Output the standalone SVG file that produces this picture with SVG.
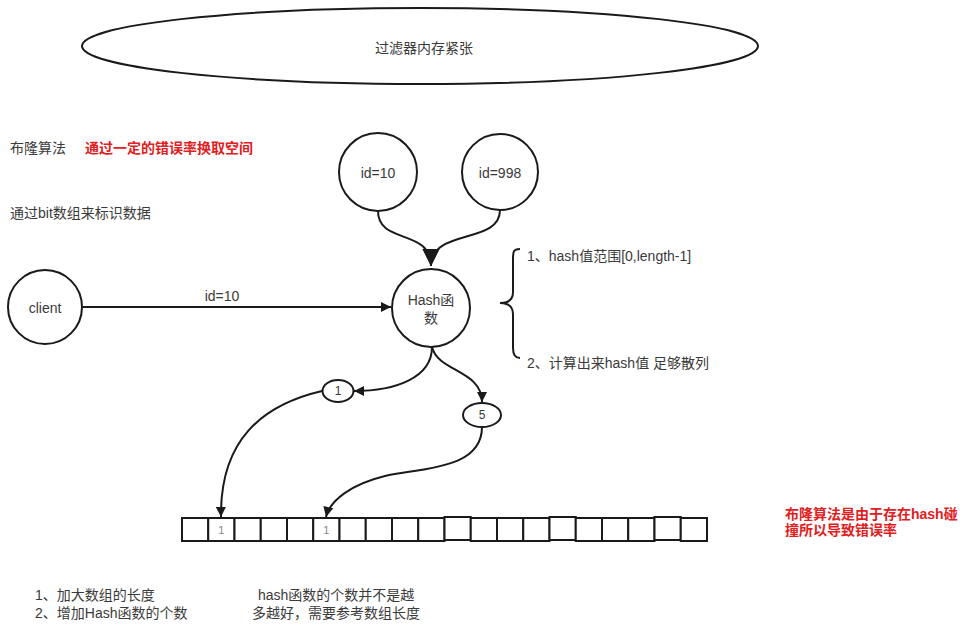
<svg xmlns="http://www.w3.org/2000/svg" width="969" height="633" viewBox="0 0 969 633">
<defs>
<style>
text{font-family:"Liberation Sans","Noto Sans CJK SC",sans-serif;font-size:14px;fill:#3a3a3a;}
.c{text-anchor:middle;dominant-baseline:central;}
.red{fill:#e0201e;font-weight:bold;}
.shape{fill:#fff;stroke:#1a1a1a;stroke-width:2;}
.cell{fill:#fff;stroke:#1a1a1a;stroke-width:2;}
.edge{fill:none;stroke:#1a1a1a;stroke-width:2;}
</style>
<marker id="arr" viewBox="0 0 10 10" refX="10" refY="5" markerWidth="11" markerHeight="10" markerUnits="userSpaceOnUse" orient="auto">
<path d="M0,0 L10,5 L0,10 Z" fill="#1a1a1a"/>
</marker>
<marker id="big" viewBox="0 0 10 10" refX="10" refY="5" markerWidth="17" markerHeight="20" markerUnits="userSpaceOnUse" orient="auto">
<path d="M0,0 L10,5 L0,10 Z" fill="#1a1a1a"/>
</marker>
</defs>
<rect width="969" height="633" fill="#fff"/>

<g id="memory">
<ellipse class="shape" cx="420" cy="46" rx="338" ry="38"/>
<text class="c" x="424" y="48">过滤器内存紧张</text>
</g>

<g id="notes">
<text x="10" y="153">布隆算法</text>
<text class="red" x="85" y="153">通过一定的错误率换取空间</text>
<text x="10" y="218">通过bit数组来标识数据</text>
<text x="527" y="261">1、hash值范围[0,length-1]</text>
<text x="527" y="368">2、计算出来hash值 足够散列</text>
<text class="red" x="785" y="519">布隆算法是由于存在hash碰</text>
<text class="red" x="785" y="535">撞所以导致错误率</text>
<text x="35" y="600">1、加大数组的长度</text>
<text x="35" y="618">2、增加Hash函数的个数</text>
<text x="258" y="600">hash函数的个数并不是越</text>
<text x="252" y="618">多越好，需要参考数组长度</text>
</g>

<g id="brace">
<path class="edge" d="M520,249 C513,249 513,252 513,260 L513,292 C513,300 508,303 500,303 C508,303 513,306 513,314 L513,348 C513,355 515,358 520,358"/>
</g>

<g id="connectors">
<path class="edge" d="M83,307 L391,307" marker-end="url(#arr)"/>
<path class="edge" d="M378,211 C378,245 431,228 431,266" marker-end="url(#big)"/>
<path class="edge" d="M500,210 C500,245 431,228 431,266" marker-end="url(#big)"/>
<path class="edge" d="M432,347 C432,378 395,391 354,391" marker-end="url(#arr)"/>
<path class="edge" d="M432,347 C438,372 482,370 482,402" marker-end="url(#arr)"/>
<path class="edge" d="M322,391 C262,405 220,440 221,517" marker-end="url(#arr)"/>
<path class="edge" d="M482,427 C482,470 420,468 385,476 C352,484 330,500 326,517" marker-end="url(#arr)"/>
<text class="c" x="222" y="296">id=10</text>
</g>

<g id="client">
<circle class="shape" cx="45" cy="307" r="37"/>
<text class="c" x="45" y="308">client</text>
</g>
<g id="id10">
<circle class="shape" cx="378" cy="172" r="39"/>
<text class="c" x="378" y="173">id=10</text>
</g>
<g id="id998">
<circle class="shape" cx="500" cy="172" r="38"/>
<text class="c" x="500" y="173">id=998</text>
</g>
<g id="hash">
<circle class="shape" cx="431" cy="308" r="39"/>
<text class="c" x="431" y="300">Hash函</text>
<text class="c" x="431" y="318">数</text>
</g>
<g id="n1">
<ellipse class="shape" cx="338" cy="391" rx="15.5" ry="11"/>
<text class="c" x="338" y="391" style="font-size:12px">1</text>
</g>
<g id="n5">
<ellipse class="shape" cx="482" cy="415" rx="19" ry="12"/>
<text class="c" x="482" y="415" style="font-size:12px">5</text>
</g>

<g id="array">
<rect class="cell" x="182" y="518" width="26.25" height="23"/>
<rect class="cell" x="208.25" y="518" width="26.25" height="23"/>
<rect class="cell" x="234.5" y="518" width="26.25" height="23"/>
<rect class="cell" x="260.75" y="518" width="26.25" height="23"/>
<rect class="cell" x="287" y="518" width="26.25" height="23"/>
<rect class="cell" x="313.25" y="518" width="26.25" height="23"/>
<rect class="cell" x="339.5" y="518" width="26.25" height="23"/>
<rect class="cell" x="365.75" y="518" width="26.25" height="23"/>
<rect class="cell" x="392" y="518" width="26.25" height="23"/>
<rect class="cell" x="418.25" y="518" width="26.25" height="23"/>
<rect class="cell" x="444.5" y="517" width="26.25" height="23"/>
<rect class="cell" x="470.75" y="518" width="26.25" height="23"/>
<rect class="cell" x="497" y="518" width="26.25" height="23"/>
<rect class="cell" x="523.25" y="518" width="26.25" height="23"/>
<rect class="cell" x="549.5" y="517" width="26.25" height="23"/>
<rect class="cell" x="575.75" y="518" width="26.25" height="23"/>
<rect class="cell" x="602" y="518" width="26.25" height="23"/>
<rect class="cell" x="628.25" y="518" width="26.25" height="23"/>
<rect class="cell" x="654.5" y="517" width="26.25" height="23"/>
<rect class="cell" x="680.75" y="518" width="26.25" height="23"/>
<text class="c" x="221.4" y="530" style="font-size:11px;fill:#888">1</text>
<text class="c" x="326.4" y="530" style="font-size:11px;fill:#888">1</text>
</g>
</svg>
